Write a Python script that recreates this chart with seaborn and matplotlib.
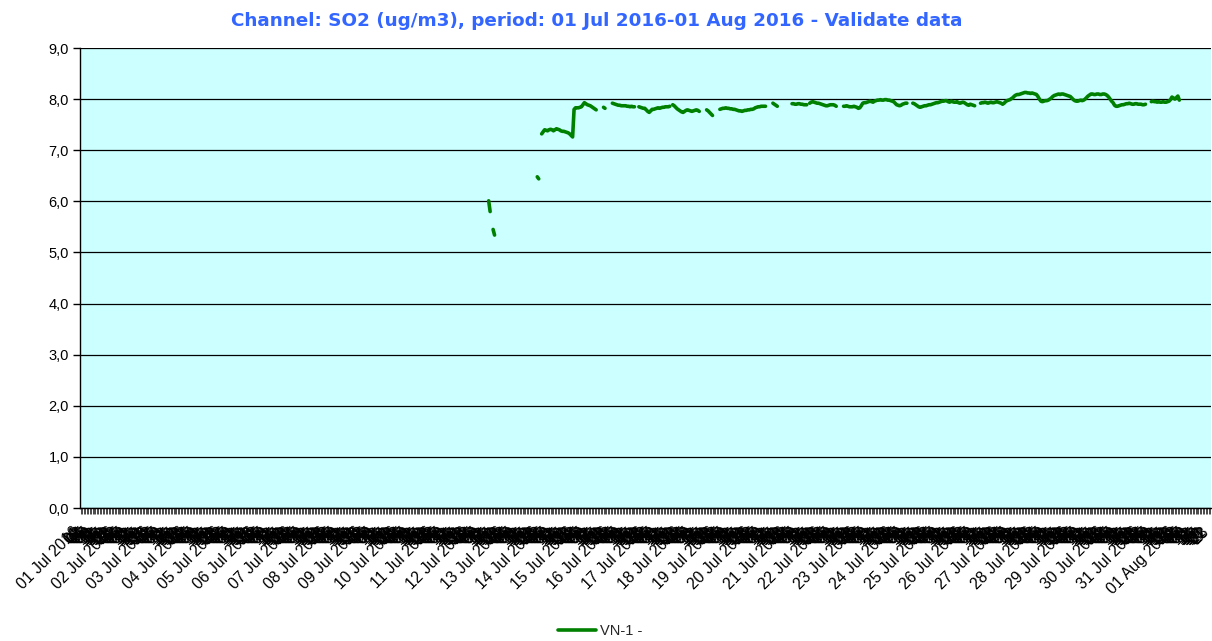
import datetime as dt
import numpy as np
import pandas as pd
import matplotlib
matplotlib.use("Agg")
import matplotlib.pyplot as plt
import matplotlib.transforms as mtransforms
import seaborn as sns
from matplotlib.lines import Line2D
from matplotlib.ticker import FuncFormatter

# ---------------- data ----------------
title = "Channel: SO2 (ug/m3), period: 01 Jul 2016-01 Aug 2016 - Validate data"
series_name = "VN-1 -"
start_date = dt.datetime(2016, 7, 1)
n_hours = 768                      # hourly categories, 01 Jul 00 .. 01 Aug 23
y_ticks = [0, 1, 2, 3, 4, 5, 6, 7, 8, 9]

# measured segments: (first hour index, hourly values)
seg01_start, seg01 = 277, [6.01, 5.80]
seg02_start, seg02 = 280, [5.45, 5.34]
seg03_start, seg03 = 310, [6.48, 6.44]
seg04_start, seg04 = 313, [7.32, 7.36, 7.40, 7.39, 7.38, 7.40, 7.41, 7.40, 7.38, 7.40,
                           7.42, 7.41, 7.40, 7.38, 7.37, 7.37, 7.36, 7.35, 7.34, 7.32,
                           7.29, 7.26, 7.80, 7.83, 7.83, 7.83, 7.84, 7.85, 7.89, 7.93,
                           7.91, 7.89, 7.88, 7.87, 7.85, 7.83, 7.81, 7.79]
seg05_start, seg05 = 355, [7.84, 7.82]
seg06_start, seg06 = 361, [7.92, 7.91, 7.90, 7.89, 7.88, 7.88, 7.87, 7.87, 7.87, 7.87,
                           7.86, 7.86, 7.85, 7.86, 7.85, 7.85]
seg07_start, seg07 = 379, [7.85, 7.84, 7.83, 7.82, 7.82, 7.79, 7.76, 7.74, 7.77, 7.80,
                           7.80, 7.81, 7.82, 7.83, 7.82, 7.83, 7.84, 7.84, 7.85, 7.85,
                           7.85, 7.86]
seg08_start, seg08 = 402, [7.89, 7.87, 7.84, 7.81, 7.79, 7.77, 7.75, 7.74, 7.76, 7.78,
                           7.79, 7.78, 7.77, 7.76, 7.77, 7.78, 7.79, 7.78, 7.76]
seg09_start, seg09 = 425, [7.79, 7.77, 7.74, 7.71, 7.68]
seg10_start, seg10 = 434, [7.80, 7.81, 7.82, 7.82, 7.83, 7.82, 7.82, 7.81, 7.81, 7.80,
                           7.80, 7.79, 7.78, 7.77, 7.77, 7.76, 7.77, 7.78, 7.78, 7.79,
                           7.79, 7.80, 7.80, 7.81, 7.83, 7.84, 7.85, 7.85, 7.86, 7.86,
                           7.86, 7.86]
seg11_start, seg11 = 470, [7.92, 7.90, 7.88, 7.86]
seg12_start, seg12 = 483, [7.91, 7.91, 7.90, 7.90, 7.91, 7.91, 7.90, 7.90, 7.89, 7.89, 7.89]
seg13_start, seg13 = 495, [7.92, 7.94, 7.95, 7.94, 7.93, 7.92, 7.92, 7.91, 7.90, 7.89,
                           7.88, 7.87, 7.87, 7.88, 7.89, 7.89, 7.89, 7.88, 7.86]
seg14_start, seg14 = 518, [7.86, 7.86, 7.87, 7.86, 7.85, 7.85, 7.85, 7.86, 7.85, 7.84,
                           7.82, 7.83, 7.87, 7.92, 7.93, 7.93, 7.94, 7.95, 7.96, 7.95,
                           7.94, 7.96, 7.97, 7.98, 7.98, 7.99, 7.98, 7.98, 7.99, 7.99,
                           7.98, 7.98, 7.97, 7.96, 7.95, 7.92, 7.89, 7.88, 7.87, 7.88,
                           7.90, 7.91, 7.92, 7.92]
seg15_start, seg15 = 565, [7.92, 7.91, 7.89, 7.87, 7.85, 7.84, 7.85, 7.86, 7.87, 7.87,
                           7.88, 7.89, 7.89, 7.90, 7.91, 7.92, 7.93, 7.93, 7.94, 7.95,
                           7.96, 7.96, 7.97, 7.97, 7.95, 7.94, 7.96, 7.95, 7.94, 7.94,
                           7.95, 7.93, 7.92, 7.93, 7.94, 7.93, 7.91, 7.89, 7.88, 7.90,
                           7.89, 7.88, 7.87]
seg16_start, seg16 = 611, [7.92, 7.93, 7.93, 7.94, 7.93, 7.92, 7.93, 7.94, 7.93, 7.93,
                           7.94, 7.95, 7.94, 7.93, 7.92, 7.90, 7.92, 7.95, 7.97, 7.98,
                           7.99, 8.01, 8.03, 8.06, 8.08, 8.09, 8.09, 8.10, 8.11, 8.12,
                           8.13, 8.13, 8.12, 8.12, 8.11, 8.12, 8.11, 8.10, 8.09, 8.05,
                           8.00, 7.96, 7.95, 7.96, 7.97, 7.97, 7.98, 8.00, 8.02, 8.05,
                           8.07, 8.08, 8.09, 8.10, 8.09, 8.10, 8.10, 8.09, 8.08, 8.07,
                           8.06, 8.05, 8.02, 7.99, 7.97, 7.96, 7.96, 7.97, 7.98, 7.97,
                           7.98, 8.00, 8.03, 8.06, 8.08, 8.10, 8.10, 8.09, 8.09, 8.10,
                           8.10, 8.09, 8.09, 8.10, 8.10, 8.09, 8.07, 8.04, 8.00, 7.96,
                           7.93, 7.88, 7.86, 7.86, 7.87, 7.88, 7.89, 7.89, 7.90, 7.91,
                           7.91, 7.92, 7.91, 7.90, 7.90, 7.91, 7.91, 7.90, 7.90, 7.90,
                           7.89, 7.89, 7.90]
seg17_start, seg17 = 727, [7.95, 7.96, 7.95, 7.95, 7.94, 7.95, 7.94, 7.94, 7.95, 7.94,
                           7.94, 7.95, 7.96, 7.99, 8.04, 8.02, 8.00, 8.03, 8.06, 7.98]

segments = [
    (seg01_start, seg01), (seg02_start, seg02), (seg03_start, seg03),
    (seg04_start, seg04), (seg05_start, seg05), (seg06_start, seg06),
    (seg07_start, seg07), (seg08_start, seg08), (seg09_start, seg09),
    (seg10_start, seg10), (seg11_start, seg11), (seg12_start, seg12),
    (seg13_start, seg13), (seg14_start, seg14), (seg15_start, seg15),
    (seg16_start, seg16), (seg17_start, seg17),
]

rows = []
for k, (s, vals) in enumerate(segments):
    for i, v in enumerate(vals):
        rows.append((s + i, v, k))
df = pd.DataFrame(rows, columns=["hour", "value", "seg"])

# hourly category labels
tick_labels = []
for h in range(n_hours):
    d = start_date + dt.timedelta(hours=h)
    tick_labels.append(d.strftime("%d %b %Y") if h % 24 == 0 else f"{d.hour:02d}")

# ---------------- plot ----------------
sns.set_theme(style="white")
plt.rcParams["font.family"] = ["Liberation Sans", "DejaVu Sans"]

W, H = 1212, 641
fig = plt.figure(figsize=(W / 100, H / 100), dpi=100)
fig.patch.set_facecolor("white")
ax = fig.add_axes([80 / W, 1 - 508 / H, 1131 / W, 460 / H])
ax.set_facecolor("#ccffff")

green = "#008000"
sns.lineplot(data=df, x="hour", y="value", units="seg", estimator=None,
             color=green, linewidth=2.6, ax=ax, legend=False)

ax.set_xlim(-0.5, n_hours - 0.5)
ax.set_ylim(0, 9)
ax.set_yticks(y_ticks)
ax.yaxis.set_major_formatter(FuncFormatter(lambda v, p: f"{v:.1f}".replace(".", ",")))
ax.grid(axis="y", color="black", linewidth=0.9)
ax.grid(axis="x", visible=False)
ax.set_axisbelow(True)
ax.set_xlabel("")
ax.set_ylabel("")

for side in ["top", "right"]:
    ax.spines[side].set_visible(False)
for side in ["left", "bottom"]:
    ax.spines[side].set_color("black")
    ax.spines[side].set_linewidth(1.0)

ax.set_xticks(range(n_hours))
ax.set_xticklabels(tick_labels, rotation=45, ha="right", rotation_mode="anchor")
ax.tick_params(axis="x", direction="out", length=4, width=0.5, color="black",
               labelsize=11.3, pad=6, bottom=True)
ax.tick_params(axis="y", direction="out", length=5, width=1, color="black",
               labelsize=10.5, pad=3, left=True)
shift = mtransforms.ScaledTranslation(-9 / 100, -2 / 100, fig.dpi_scale_trans)
for lab in ax.get_xticklabels():
    lab.set_color("black")
    lab.set_transform(lab.get_transform() + shift)
for lab in ax.get_yticklabels():
    lab.set_color("black")

fig.text(0.4926, 0.968, title, ha="center", va="center", fontsize=13.2,
         fontweight="bold", color="#3366ff", family=["DejaVu Sans"])

handle = Line2D([0], [0], color=green, linewidth=2.6)
fig.legend([handle], [series_name], loc="center", bbox_to_anchor=(0.495, 0.016),
           frameon=False, fontsize=10.5, handlelength=2.6, handletextpad=0.3)

fig.savefig("out.png", dpi=100, facecolor="white")
